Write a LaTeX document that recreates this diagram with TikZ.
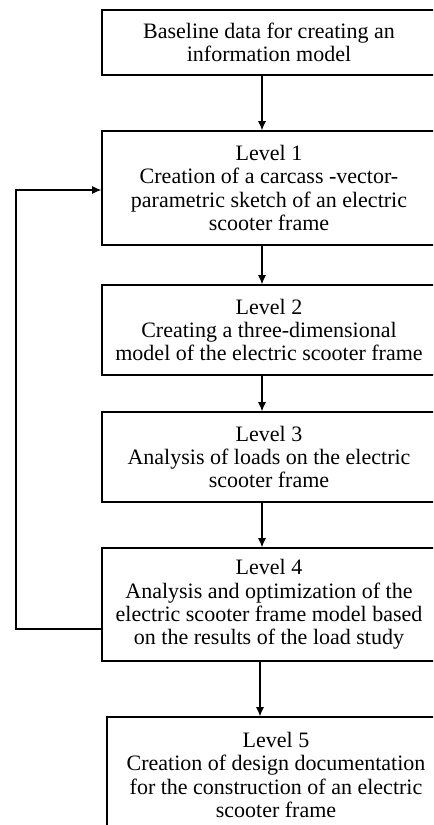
\documentclass[tikz,border=0pt]{standalone}
\usepackage{fontspec}
\setmainfont{Liberation Serif}
\usetikzlibrary{arrows.meta}
\begin{document}
\begin{tikzpicture}[x=0.75pt,y=-0.75pt,
  box/.style={draw,line width=0.9pt,inner sep=0pt,align=center,
    font=\fontsize{16.5}{17.4}\selectfont},
  conn/.style={line width=0.9pt,-{Latex[length=7pt,width=6pt]}}]
\useasboundingbox (0,0) rectangle (433,825);
\clip (0,0) rectangle (433,825);
\node[box,minimum width=334*0.75pt,minimum height=65*0.75pt] (B0) at (269,42.5)
  {Baseline data for creating an\\information model};
\node[box,minimum width=334*0.75pt,minimum height=114*0.75pt] (B1) at (269,188)
  {Level 1\\Creation of a carcass -vector-\\parametric sketch of an electric\\scooter frame};
\node[box,minimum width=334*0.75pt,minimum height=90*0.75pt] (B2) at (269,330)
  {Level 2\\Creating a three-dimensional\\model of the electric scooter frame};
\node[box,minimum width=334*0.75pt,minimum height=90*0.75pt] (B3) at (269,457)
  {Level 3\\Analysis of loads on the electric\\scooter frame};
\node[box,minimum width=334*0.75pt,minimum height=113*0.75pt] (B4) at (269,604.5)
  {Level 4\\Analysis and optimization of the\\electric scooter frame model based\\on the results of the load study};
\node[box,minimum width=338*0.75pt,minimum height=116*0.75pt] (B5) at (276,775)
  {Level 5\\Creation of design documentation\\for the construction of an electric\\scooter frame};
\coordinate (ax) at (262,0);
\coordinate (bx) at (260,0);
\coordinate (fb1) at (16,629);
\coordinate (fb2) at (16,190);
\draw[conn] (B0.south -| ax) -- (B1.north -| ax);
\draw[conn] (B1.south -| ax) -- (B2.north -| ax);
\draw[conn] (B2.south -| ax) -- (B3.north -| ax);
\draw[conn] (B3.south -| ax) -- (B4.north -| ax);
\draw[conn] (B4.south -| bx) -- (B5.north -| bx);
\draw[conn] (B4.west |- fb1) -- (fb1) -- (fb2) -- (B1.west |- fb2);
\end{tikzpicture}
\end{document}
